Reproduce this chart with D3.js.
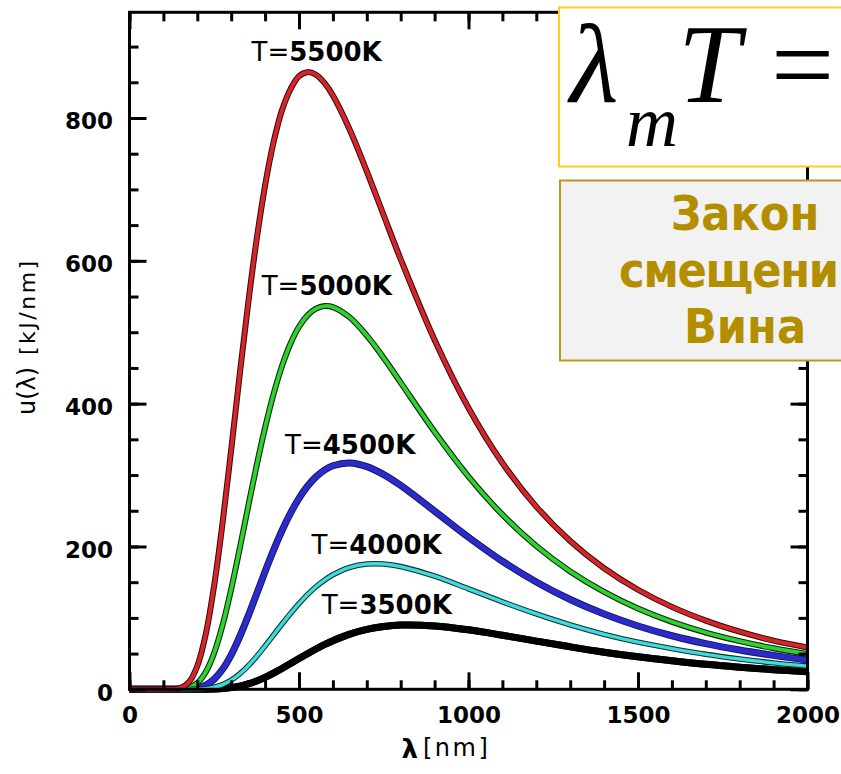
<!DOCTYPE html>
<html>
<head>
<meta charset="utf-8">
<script src="https://cdn.jsdelivr.net/npm/d3@7/dist/d3.min.js"></script>
<style>
  html, body { margin: 0; padding: 0; background: #ffffff; }
  svg { display: block; }
</style>
</head>
<body>
<script>
// Wavelength grid (nm) shared by all spectra
const wavelengths = [0, 100, 150, 175, 200, 225, 250, 275, 300, 325, 350, 375, 400, 425, 450, 475, 500, 525, 550, 575, 600, 650, 700, 750, 800, 900, 1000, 1100, 1200, 1300, 1400, 1500, 1600, 1700, 1800, 1900, 2000];

// Spectral energy density u(λ) [kJ/nm] for each temperature
const u5500 = [0, 0, 1.8, 9.8, 32.6, 77.3, 146.0, 234.7, 335.7, 440.2, 540.0, 629.7, 705.6, 766.1, 811.1, 840.5, 858.6, 864.2, 860.6, 849.1, 831.5, 783.3, 725.3, 663.5, 602.2, 489.1, 393.9, 316.9, 255.8, 207.6, 169.5, 139.4, 115.4, 96.2, 80.7, 68.1, 58.5];
const u5000 = [0, 0, 0.3, 2.2, 8.8, 24.2, 51.3, 90.7, 140.4, 196.8, 255.7, 313.3, 366.6, 413.6, 452.9, 484.3, 507.7, 523.7, 533.1, 536.7, 535.2, 520.6, 495.3, 463.9, 429.5, 360.5, 297.8, 244.6, 200.7, 165.1, 136.4, 113.2, 94.5, 79.5, 67.5, 57.5, 49.5];
const u4500 = [0, 0, 0, 0.4, 1.8, 5.8, 14.3, 28.3, 48.3, 73.6, 102.5, 133.5, 164.8, 194.8, 222.4, 246.7, 267.5, 284.3, 297.4, 306.9, 313.1, 316.9, 311.8, 300.6, 285.4, 249.5, 212.9, 179.3, 150.3, 125.7, 105.4, 88.6, 75.0, 64.0, 55.0, 47.5, 41.0];
const u4000 = [0, 0, 0, 0, 0.2, 1.0, 2.9, 6.6, 12.8, 21.5, 32.7, 46.0, 60.7, 76.0, 91.5, 106.3, 120.1, 132.6, 143.6, 152.8, 160.4, 170.8, 175.4, 175.4, 171.9, 158.4, 140.7, 122.5, 105.5, 90.2, 77.0, 66.0, 57.0, 49.0, 42.5, 37.0, 32.5];
const u3500 = [0, 0, 0, 0, 0, 0.1, 0.4, 1.0, 2.3, 4.4, 7.5, 11.7, 16.8, 22.7, 29.2, 36.0, 43.0, 49.8, 56.4, 62.5, 68.0, 77.3, 83.9, 88.0, 90.0, 88.8, 83.3, 75.7, 67.5, 59.5, 52.0, 45.5, 40.0, 35.0, 31.0, 27.5, 24.5];

// Curve labels: temperature and the (λ, u) point where the label text starts
const temperatures = [5500, 5000, 4500, 4000, 3500];
const labelLambda = [360, 390, 459, 537, 567];
const labelValue = [880, 552, 330, 190, 105];

// Axis ticks
const xMajorTicks = [0, 500, 1000, 1500, 2000];
const xMinorTicks = d3.range(0, 2001, 100);
const yMajorTicks = [0, 200, 400, 600, 800];
const yMinorTicks = d3.range(0, 901, 50);

const W = 841, H = 774;
const plot = { left: 129.5, right: 807.5, top: 12.3, bottom: 689.3 };

const svg = d3.select("body").append("svg")
  .attr("width", W).attr("height", H)
  .attr("viewBox", `0 0 ${W} ${H}`);

const x = d3.scaleLinear().domain([0, 2000]).range([plot.left, plot.right]);
const y = d3.scaleLinear().domain([0, 948]).range([plot.bottom, plot.top]);

const tickFont = "'DejaVu Sans', Verdana, sans-serif";

// ---- spectra ----
const series = [
  { t: 3500, values: u3500, outer: "#000000", inner: "#000000", ow: 7, iw: 7 },
  { t: 4500, values: u4500, outer: "#14145a", inner: "#2b2bcb", ow: 7, iw: 5.2 },
  { t: 5000, values: u5000, outer: "#0c2a0c", inner: "#2fd02f", ow: 6, iw: 3.8 },
  { t: 4000, values: u4000, outer: "#0d3030", inner: "#3fdada", ow: 5.5, iw: 3.4 },
  { t: 5500, values: u5500, outer: "#3a0808", inner: "#d2262b", ow: 6, iw: 4 }
];

const line = d3.line()
  .x((d, i) => x(wavelengths[i]))
  .y(d => y(d))
  .curve(d3.curveCatmullRom.alpha(0.5));

const curves = svg.append("g").attr("class", "curves");
series.forEach(s => {
  curves.append("path")
    .attr("d", line(s.values))
    .attr("fill", "none")
    .attr("stroke", s.outer)
    .attr("stroke-width", s.ow)
    .attr("stroke-linejoin", "round");
  curves.append("path")
    .attr("d", line(s.values))
    .attr("fill", "none")
    .attr("stroke", s.inner)
    .attr("stroke-width", s.iw)
    .attr("stroke-linejoin", "round");
});

// ---- frame and inward ticks ----
function styleAxis(g) {
  g.select(".domain").remove();
  g.selectAll(".tick line").attr("stroke", "#000").attr("stroke-width", 3);
  g.selectAll(".tick text")
    .attr("fill", "#000")
    .attr("font-family", tickFont)
    .attr("font-weight", "bold")
    .attr("font-size", 23);
}

// bottom
svg.append("g").attr("transform", `translate(0,${plot.bottom})`)
  .call(d3.axisBottom(x).tickValues(xMinorTicks).tickSizeInner(-9).tickSizeOuter(0).tickFormat(""))
  .call(styleAxis);
svg.append("g").attr("transform", `translate(0,${plot.bottom})`)
  .call(d3.axisBottom(x).tickValues(xMajorTicks).tickSizeInner(-17).tickSizeOuter(0).tickPadding(17.7).tickFormat(d3.format("d")))
  .call(styleAxis);
// top
svg.append("g").attr("transform", `translate(0,${plot.top})`)
  .call(d3.axisTop(x).tickValues(xMinorTicks).tickSizeInner(-9).tickSizeOuter(0).tickFormat(""))
  .call(styleAxis);
svg.append("g").attr("transform", `translate(0,${plot.top})`)
  .call(d3.axisTop(x).tickValues(xMajorTicks).tickSizeInner(-17).tickSizeOuter(0).tickFormat(""))
  .call(styleAxis);
// left
svg.append("g").attr("transform", `translate(${plot.left},0)`)
  .call(d3.axisLeft(y).tickValues(yMinorTicks).tickSizeInner(-9).tickSizeOuter(0).tickFormat(""))
  .call(styleAxis);
svg.append("g").attr("transform", `translate(${plot.left},0)`)
  .call(d3.axisLeft(y).tickValues(yMajorTicks).tickSizeInner(-17).tickSizeOuter(0).tickPadding(16.5).tickFormat(d3.format("d")))
  .call(styleAxis)
  .call(g => g.selectAll(".tick text").attr("dy", "0.47em"));
// right
svg.append("g").attr("transform", `translate(${plot.right},0)`)
  .call(d3.axisRight(y).tickValues(yMinorTicks).tickSizeInner(-9).tickSizeOuter(0).tickFormat(""))
  .call(styleAxis);
svg.append("g").attr("transform", `translate(${plot.right},0)`)
  .call(d3.axisRight(y).tickValues(yMajorTicks).tickSizeInner(-17).tickSizeOuter(0).tickFormat(""))
  .call(styleAxis);

svg.append("rect")
  .attr("x", plot.left).attr("y", plot.top)
  .attr("width", plot.right - plot.left).attr("height", plot.bottom - plot.top)
  .attr("fill", "none").attr("stroke", "#000").attr("stroke-width", 3);

// ---- curve labels ----
const labels = svg.append("g").attr("class", "curve-labels")
  .attr("font-family", tickFont).attr("font-size", 26).attr("fill", "#000");
temperatures.forEach((t, i) => {
  const txt = labels.append("text")
    .attr("x", x(labelLambda[i]))
    .attr("y", y(labelValue[i]));
  txt.append("tspan").text("T=");
  txt.append("tspan").attr("font-weight", "bold").text(t + "K");
});

// ---- axis titles ----
const yTitle = svg.append("g").attr("transform", "translate(35,415) rotate(-90)")
  .attr("font-family", tickFont).attr("fill", "#000");
yTitle.append("text").attr("x", 0).attr("y", 0).attr("font-size", 24)
  .text("u(λ)");
yTitle.append("text").attr("x", 60).attr("y", 0).attr("font-size", 22)
  .attr("letter-spacing", 2.5).text("[kJ/nm]");

svg.append("text").attr("x", 401.5).attr("y", 758)
  .attr("font-family", tickFont).attr("font-weight", "bold").attr("font-size", 26)
  .attr("fill", "#000").text("λ");
svg.append("text").attr("x", 423).attr("y", 756)
  .attr("font-family", tickFont).attr("font-size", 24).attr("letter-spacing", 2.5)
  .attr("fill", "#000").text("[nm]");

// ---- Wien's law panels ----
svg.append("rect")
  .attr("x", 559).attr("y", 7.5).attr("width", 300).attr("height", 159)
  .attr("fill", "#ffffff").attr("stroke", "#fdcf1c").attr("stroke-width", 2);

const serif = "'Liberation Serif', 'Times New Roman', serif";
svg.append("text").attr("x", 570).attr("y", 102)
  .attr("font-family", serif).attr("font-style", "italic").attr("font-size", 112)
  .attr("fill", "#000").text("λ");
svg.append("text").attr("x", 626).attr("y", 146)
  .attr("font-family", serif).attr("font-style", "italic").attr("font-size", 72)
  .attr("fill", "#000").text("m");
svg.append("text").attr("x", 678).attr("y", 102)
  .attr("font-family", serif).attr("font-style", "italic").attr("font-size", 112)
  .attr("fill", "#000").text("T");
svg.append("text").attr("x", 771).attr("y", 102)
  .attr("font-family", serif).attr("font-size", 112)
  .attr("fill", "#000").text("=");

svg.append("rect")
  .attr("x", 560).attr("y", 180.5).attr("width", 300).attr("height", 180)
  .attr("fill", "#f2f2f2").attr("stroke", "#b59a1e").attr("stroke-width", 2);

// Panel caption, one entry per line; the middle line is left-aligned so it stays on the page
const lawLines = ["Закон", "смещени", "Вина"];
const lawFont = "'DejaVu Sans Condensed', 'DejaVu Sans', sans-serif";
const law = svg.append("g")
  .attr("font-family", lawFont)
  .attr("font-weight", "bold").attr("font-size", 48).attr("fill", "#b38f00");
law.selectAll("text").data(lawLines).join("text")
  .attr("x", (d, i) => i === 1 ? 619 : 745)
  .attr("text-anchor", (d, i) => i === 1 ? "start" : "middle")
  .attr("letter-spacing", (d, i) => i === 1 ? -1.2 : 0)
  .attr("y", (d, i) => 230 + i * 56.7)
  .text(d => d);
</script>
</body>
</html>
